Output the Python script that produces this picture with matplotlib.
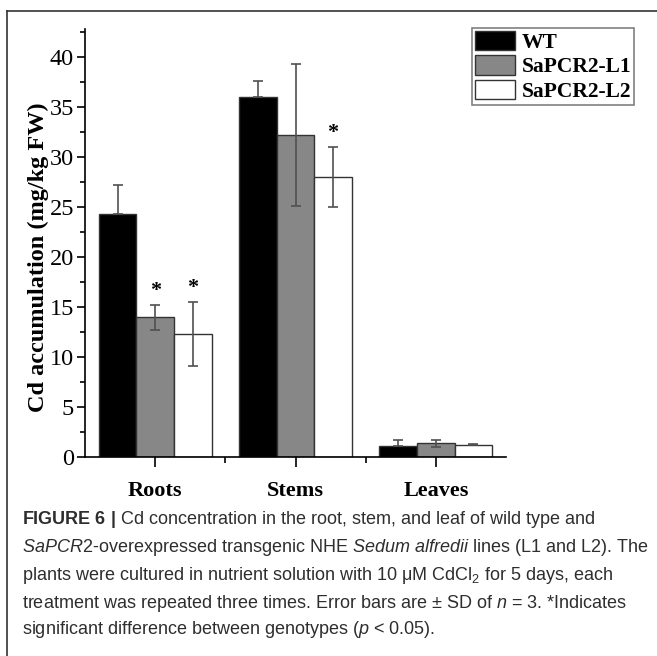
import numpy as np
import matplotlib
matplotlib.use("Agg")
import matplotlib.pyplot as plt
from matplotlib.lines import Line2D
from matplotlib.ticker import MultipleLocator, FixedLocator

# values (mg/kg FW)
tissues = ["Roots", "Stems", "Leaves"]
lines = ["WT", "SaPCR2-L1", "SaPCR2-L2"]
wt_mean = [24.3, 36.0, 1.13]
wt_sd = [2.9, 1.6, 0.57]
l1_mean = [14.0, 32.2, 1.37]
l1_sd = [1.25, 7.1, 0.35]
l2_mean = [12.3, 28.0, 1.25]
l2_sd = [3.2, 3.0, 0.03]
# significance marks (*) per line and tissue
l1_sig = [True, False, False]
l2_sig = [True, True, False]

caption = [
    r"$\mathbf{FIGURE\ 6\ |}$ Cd concentration in the root, stem, and leaf of wild type and",
    r"$\mathit{SaPCR}$2-overexpressed transgenic NHE $\mathit{Sedum\ alfredii}$ lines (L1 and L2). The",
    r"plants were cultured in nutrient solution with 10 μM CdCl$_2$ for 5 days, each",
    r"treatment was repeated three times. Error bars are ± SD of $\mathit{n}$ = 3. *Indicates",
    r"significant difference between genotypes ($\mathit{p}$ < 0.05).",
]

plt.rcParams["font.family"] = "Liberation Serif"
plt.rcParams["mathtext.fontset"] = "custom"
plt.rcParams["mathtext.rm"] = "Liberation Sans"
plt.rcParams["mathtext.it"] = "Liberation Sans:italic"
plt.rcParams["mathtext.bf"] = "Liberation Sans:bold"

W, H = 657, 656
fig = plt.figure(figsize=(W / 100, H / 100), dpi=100)
ax = fig.add_axes([85 / W, 1 - 457 / H, (506 - 85) / W, (457 - 29) / H])

x = np.arange(len(tissues))
width = 0.268
ecol = "#505050"
ekw = dict(ecolor=ecol, elinewidth=1.2, capsize=3.5, capthick=1.2)

ax.bar(x - width, wt_mean, width, color="black", edgecolor="#333333", lw=1,
       yerr=[np.zeros(3), wt_sd], error_kw=ekw, label=lines[0])
ax.bar(x, l1_mean, width, color="#878787", edgecolor="#333333", lw=1,
       yerr=l1_sd, error_kw=ekw, label=lines[1])
ax.bar(x + width, l2_mean, width, color="white", edgecolor="#333333", lw=1,
       yerr=l2_sd, error_kw=ekw, label=lines[2])

for i in range(len(tissues)):
    if l1_sig[i]:
        ax.text(x[i], l1_mean[i] + l1_sd[i] + 1.4, "*", ha="center", va="center",
                fontsize=16, fontweight="bold")
    if l2_sig[i]:
        ax.text(x[i] + width, l2_mean[i] + l2_sd[i] + 1.4, "*", ha="center", va="center",
                fontsize=16, fontweight="bold")

ax.set_xlim(-0.5, 2.5)
ax.set_ylim(0, 42.8)
ax.yaxis.set_major_locator(MultipleLocator(5))
ax.yaxis.set_minor_locator(MultipleLocator(2.5))
ax.set_xticks(x)
ax.set_xticklabels(tissues, fontsize=16, fontweight="bold")
ax.xaxis.set_minor_locator(FixedLocator([0.5, 1.5]))
ax.tick_params(axis="y", which="major", labelsize=17.5, length=6, width=1.2,
               direction="out", pad=2)
ax.tick_params(axis="y", which="minor", length=3.5, width=1.2, direction="out")
ax.tick_params(axis="x", which="major", length=7, width=1.2, pad=10)
ax.tick_params(axis="x", which="minor", length=4, width=1.2)
ax.set_ylabel("Cd accumulation (mg/kg FW)", fontsize=17.5, fontweight="bold")
ax.yaxis.set_label_coords(-0.085, 20 / 42.8)
for s in ["top", "right"]:
    ax.spines[s].set_visible(False)
for s in ["left", "bottom"]:
    ax.spines[s].set_linewidth(1.2)

leg = ax.legend(loc="upper left", bbox_to_anchor=(472 / W, 1 - 28 / H),
                bbox_transform=fig.transFigure, borderaxespad=0, fancybox=False,
                edgecolor="#808080", framealpha=1, prop=dict(size=15.5, weight="bold"),
                handlelength=1.85, handleheight=1.0, labelspacing=0.1,
                handletextpad=0.3, borderpad=0.15)
leg.get_frame().set_linewidth(1.2)

# caption below the chart
tops = [519, 547, 575, 603, 630]
for txt, yy in zip(caption, tops):
    fig.text(22 / W, 1 - yy / H, txt, fontsize=13.0, family="Liberation Sans",
             color="#2e2e2e", va="center", ha="left")

# frame lines of the figure panel
fig.add_artist(Line2D([7 / W, 1], [1 - 11 / H, 1 - 11 / H], color="#333333", lw=1.2))
fig.add_artist(Line2D([7 / W, 7 / W], [0, 1 - 11 / H], color="#333333", lw=1.2))

fig.savefig("out.png", dpi=100)
